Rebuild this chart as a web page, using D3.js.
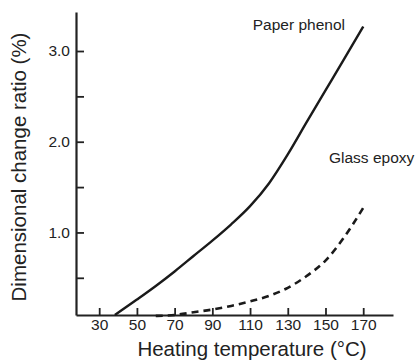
<!DOCTYPE html>
<html>
<head>
<meta charset="utf-8">
<script src="https://cdn.jsdelivr.net/npm/d3@7"></script>
<style>
  body { margin: 0; background: #fff; }
  text { font-family: "Liberation Sans", Arial, sans-serif; fill: #222; }
</style>
</head>
<body>
<svg id="chart" width="415" height="363"></svg>
<script>
// data
const paperTemp = [38.3, 50, 60, 70, 80, 90, 100, 110, 120, 130, 140, 150, 160, 170];
const paperVal  = [0.09, 0.26, 0.41, 0.57, 0.74, 0.91, 1.09, 1.29, 1.54, 1.86, 2.215, 2.565, 2.915, 3.27];
const glassTemp = [60, 70, 80, 90, 100, 110, 120, 130, 140, 150, 160, 170];
const glassVal  = [0.08, 0.09, 0.12, 0.15, 0.19, 0.24, 0.3, 0.39, 0.52, 0.69, 0.95, 1.27];
const xTicks = [30, 50, 70, 90, 110, 130, 150, 170];
const yTicks = [0.5, 1.0, 1.5, 2.0, 2.5, 3.0];
const yLabels = [1.0, 2.0, 3.0];

const svg = d3.select('#chart');

const x = d3.scaleLinear().domain([17.7, 185.8]).range([76, 393]);
const y = d3.scaleLinear().domain([0.09, 3.43]).range([315, 12]);

// y axis
const yAxis = svg.append('g')
    .attr('transform', `translate(${x.range()[0]},0)`)
    .call(d3.axisLeft(y)
      .tickValues(yTicks)
      .tickSize(-8)
      .tickSizeOuter(0)
      .tickPadding(6)
      .tickFormat(d => yLabels.includes(d) ? d3.format('.1f')(d) : ''));

// x axis
const xAxis = svg.append('g')
    .attr('transform', `translate(0,${y.range()[0]})`)
    .call(d3.axisBottom(x)
      .tickValues(xTicks)
      .tickSize(-7)
      .tickSizeOuter(0)
      .tickPadding(4));

[yAxis, xAxis].forEach(a => {
  a.select('.domain').attr('stroke', '#222').attr('stroke-width', 2.2);
  a.selectAll('.tick line').attr('stroke', '#222').attr('stroke-width', 1.8);
  a.selectAll('.tick text')
    .attr('font-size', 15.5)
    .attr('font-family', '"Liberation Sans", Arial, sans-serif')
    .attr('fill', '#222');
});

const line = d3.line()
    .x(d => x(d[0]))
    .y(d => y(d[1]))
    .curve(d3.curveMonotoneX);

svg.append('path')
    .datum(d3.zip(paperTemp, paperVal))
    .attr('d', line)
    .attr('fill', 'none')
    .attr('stroke', '#1a1a1a')
    .attr('stroke-width', 2.4);

svg.append('path')
    .datum(d3.zip(glassTemp, glassVal))
    .attr('d', line)
    .attr('fill', 'none')
    .attr('stroke', '#1a1a1a')
    .attr('stroke-width', 2.6)
    .attr('stroke-dasharray', '7,5');

// curve labels
svg.append('text')
    .attr('x', 345)
    .attr('y', 30)
    .attr('text-anchor', 'end')
    .attr('font-size', 15.5)
    .text('Paper phenol');

svg.append('text')
    .attr('x', 329)
    .attr('y', 163)
    .attr('font-size', 15.5)
    .text('Glass epoxy');

// axis titles
svg.append('text')
    .attr('x', 252)
    .attr('y', 356)
    .attr('text-anchor', 'middle')
    .attr('font-size', 20.5)
    .text('Heating temperature (°C)');

svg.append('text')
    .attr('transform', 'translate(26,167) rotate(-90)')
    .attr('text-anchor', 'middle')
    .attr('font-size', 20.5)
    .text('Dimensional change ratio (%)');
</script>
</body>
</html>
